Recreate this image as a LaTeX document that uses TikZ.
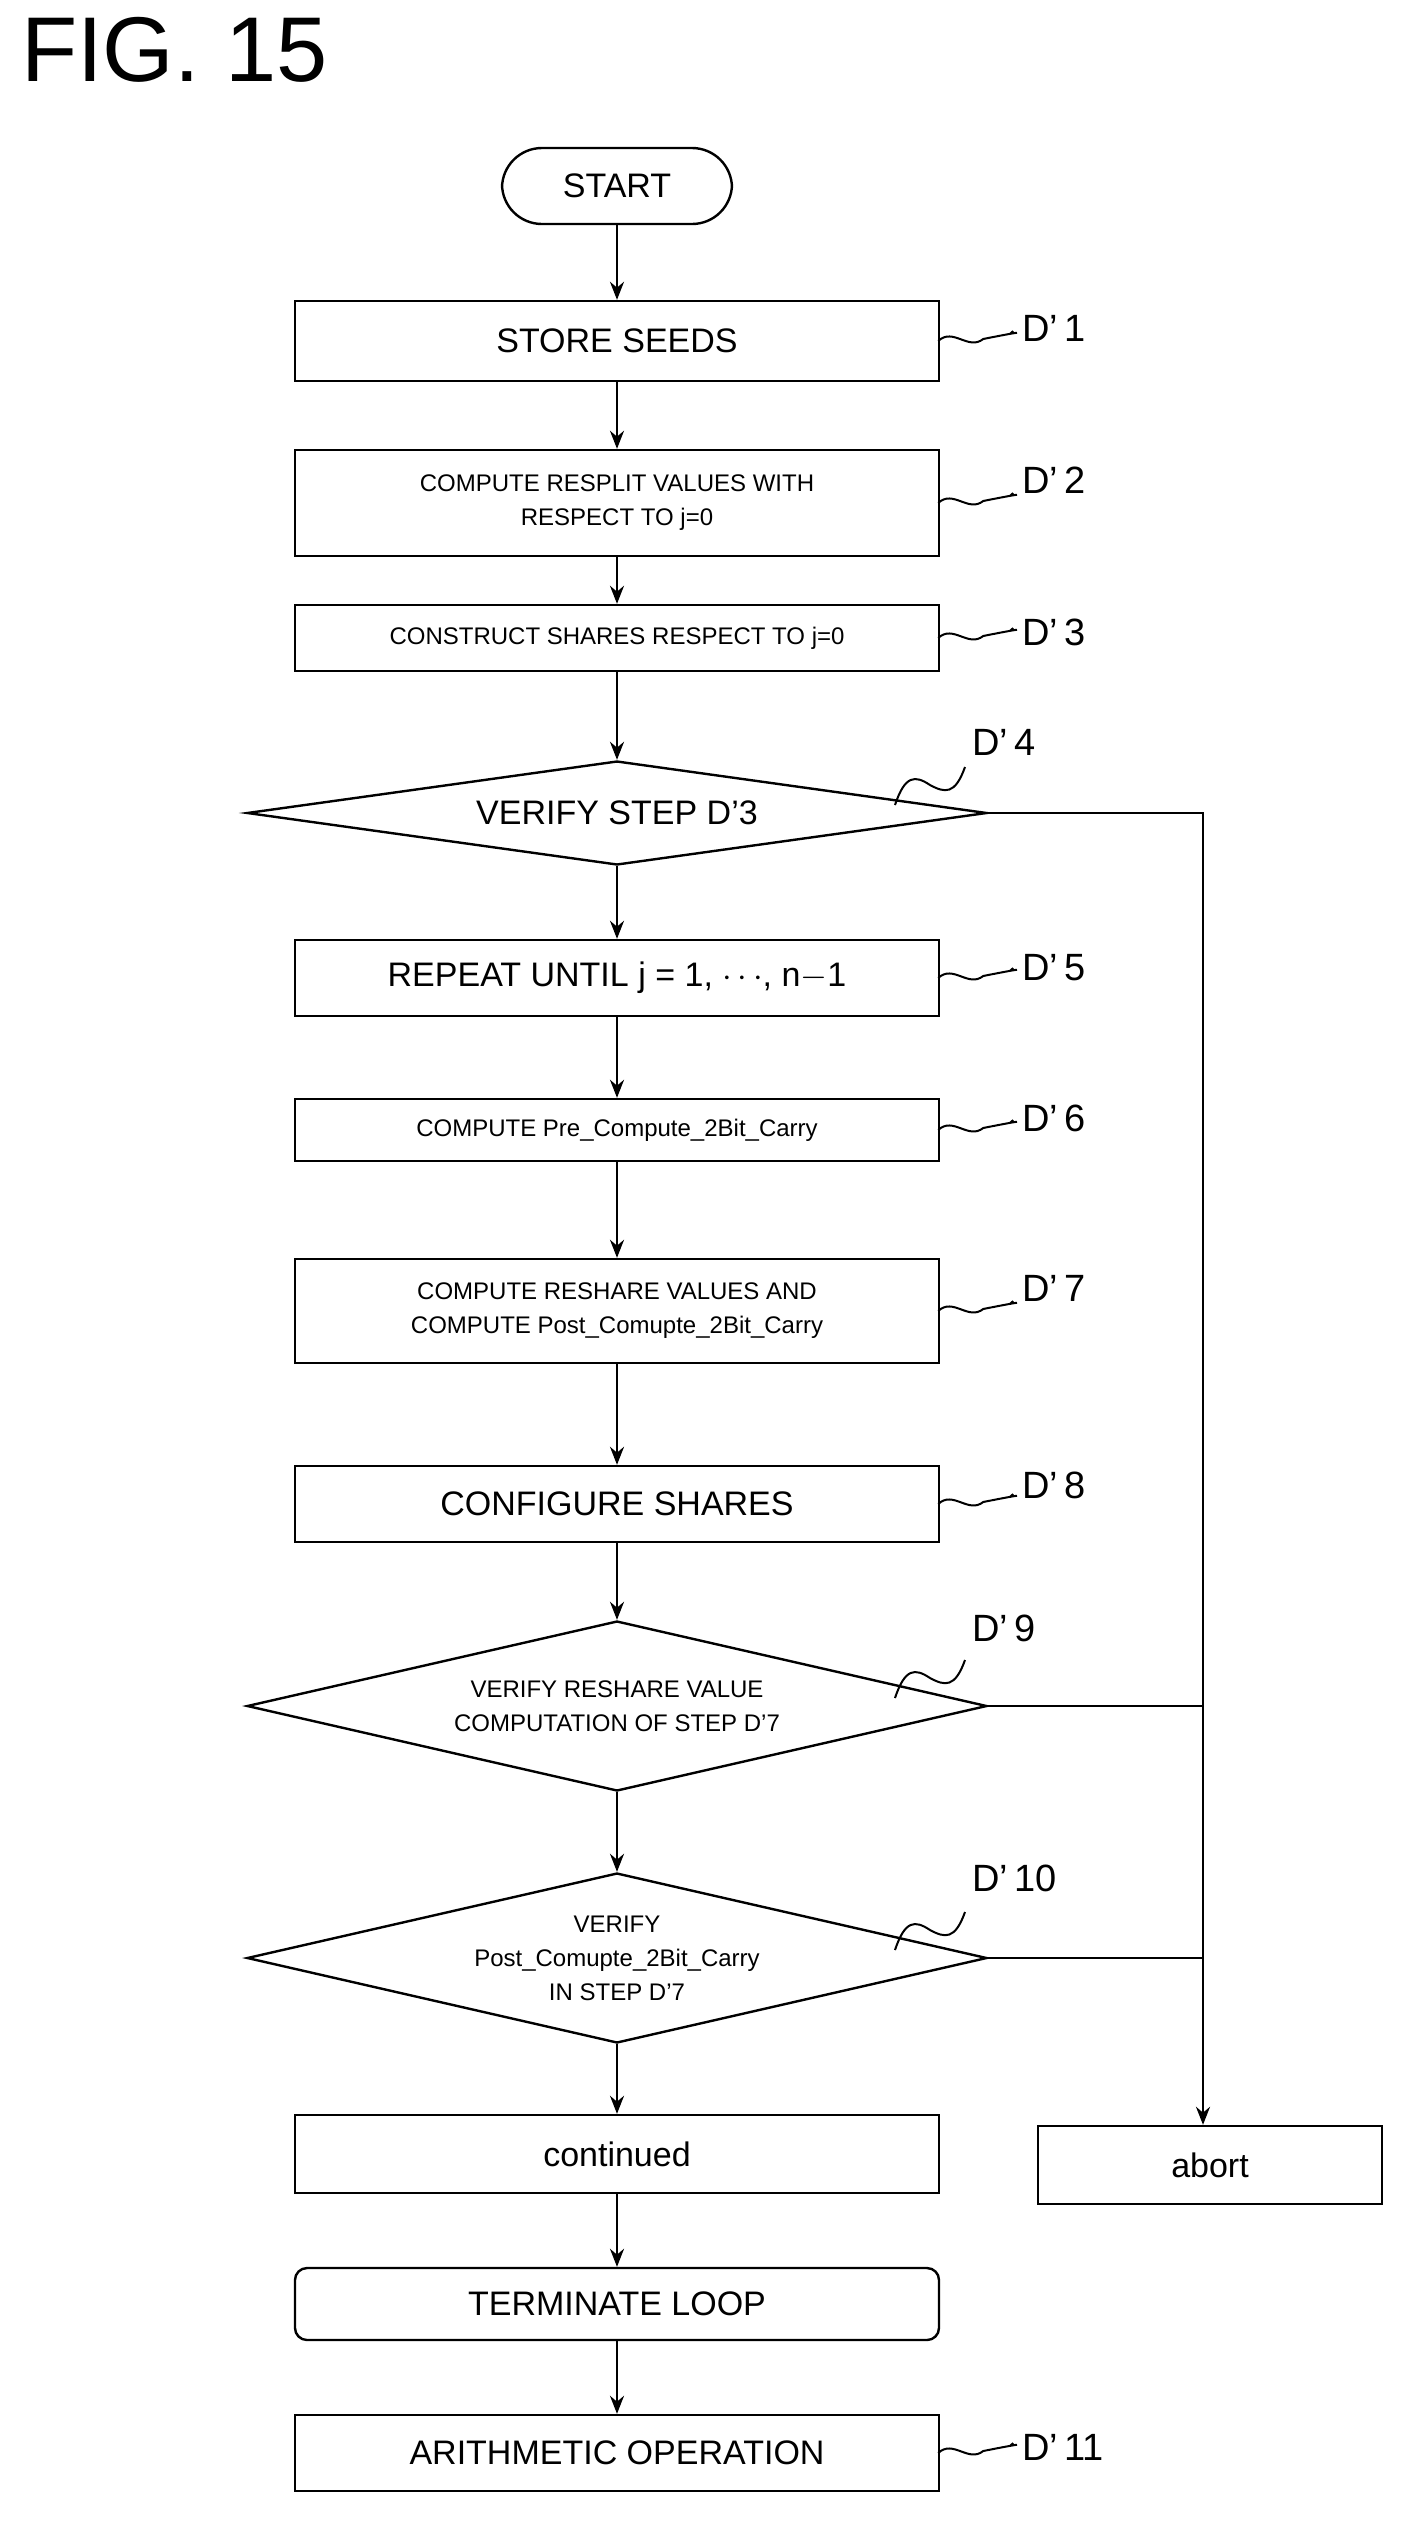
\documentclass[tikz,border=0pt]{standalone}
\usepackage{fontspec}
\setmainfont{Liberation Sans}
\usetikzlibrary{shapes.geometric,arrows.meta}
\begin{document}
\begin{tikzpicture}[x=0.5pt,y=-0.5pt,
  box/.style={draw,line width=1.2pt,minimum width=322pt,inner sep=0pt,align=center},
  dia/.style={draw,line width=1.2pt,diamond,aspect=4.4,inner sep=0pt,align=center},
  big/.style={font=\fontsize{17}{20}\selectfont},
  sm/.style={font=\fontsize{12}{17}\selectfont},
  lab/.style={font=\fontsize{19}{22}\selectfont,anchor=west},
  arr/.style={line width=1.2pt,-{Stealth[length=9pt,width=7pt]}},
  ln/.style={line width=1.2pt},
  sq/.style={line width=1pt}]
\useasboundingbox (0,0) rectangle (1410,2522);
\node[anchor=north west,font=\fontsize{46}{52}\selectfont] (fig) at (14,10) {FIG. 15};
\node[draw,line width=1.2pt,rounded corners=20pt,minimum width=115pt,minimum height=38pt,big] (s) at (617,186) {START};
\node[box,minimum height=40pt,big] (d1) at (617,341) {STORE SEEDS};
\node[box,minimum height=53pt,sm] (d2) at (617,503) {COMPUTE RESPLIT VALUES WITH\\RESPECT TO j=0};
\node[box,minimum height=33pt,sm] (d3) at (617,638) {CONSTRUCT SHARES RESPECT TO j=0};
\node[dia,minimum width=370pt,minimum height=52pt,big] (d4) at (617,813) {};
\node[big] at (617,813) {VERIFY STEP D\textquoteright3};
\node[box,minimum height=38pt,big] (d5) at (617,978) {REPEAT UNTIL j = 1, $\cdots$, n$-$1};
\node[box,minimum height=31pt,sm] (d6) at (617,1130) {COMPUTE Pre\_Compute\_2Bit\_Carry};
\node[box,minimum height=52pt,sm] (d7) at (617,1311) {COMPUTE RESHARE VALUES AND\\COMPUTE Post\_Comupte\_2Bit\_Carry};
\node[box,minimum height=38pt,big] (d8) at (617,1504) {CONFIGURE SHARES};
\node[dia,minimum width=370pt,minimum height=85pt] (d9) at (617,1706) {};
\node[sm,align=center] at (617,1706) {VERIFY RESHARE VALUE\\COMPUTATION OF STEP D\textquoteright7};
\node[dia,minimum width=370pt,minimum height=85pt] (d10) at (617,1958) {};
\node[sm,align=center] at (617,1958) {VERIFY\\Post\_Comupte\_2Bit\_Carry\\IN STEP D\textquoteright7};
\node[box,minimum height=39pt,big] (c) at (617,2154) {continued};
\node[draw,line width=1.2pt,minimum width=172pt,minimum height=39pt,big] (ab) at (1210,2165) {abort};
\node[box,rounded corners=6pt,minimum height=36pt,big] (t) at (617,2304) {TERMINATE LOOP};
\node[box,minimum height=38pt,big] (d11) at (617,2453) {ARITHMETIC OPERATION};
\foreach \a/\b in {s/d1,d1/d2,d2/d3,d3/d4,d4/d5,d5/d6,d6/d7,d7/d8,d8/d9,d9/d10,d10/c,c/t,t/d11}
  \draw[arr] (\a) -- (\b);
\coordinate (r4) at (1203,813);
\coordinate (r9) at (1203,1706);
\coordinate (r10) at (1203,1958);
\draw[ln] (d4.east) -- (r4) -- (r10);
\draw[ln] (d9.east) -- (r9);
\draw[ln] (d10.east) -- (r10);
\draw[arr] (r10) -- (ab.north -| r10);
\foreach \n in {d1,d2,d3,d5,d6,d7,d8,d11}{
  \draw[sq] (\n.east) ++(-2,0) .. controls +(15,-14) and +(-15,12) .. +(45,-2) .. controls +(60,-12) and +(-10,6) .. +(75,-10);
}
\node[lab] at (1015,328) {D\textquoteright\,1};
\node[lab] at (1015,480) {D\textquoteright\,2};
\node[lab] at (1015,632) {D\textquoteright\,3};
\node[lab] at (1015,968) {D\textquoteright\,5};
\node[lab] at (1015,1118) {D\textquoteright\,6};
\node[lab] at (1015,1288) {D\textquoteright\,7};
\node[lab] at (1015,1485) {D\textquoteright\,8};
\node[lab] at (1015,2447) {D\textquoteright\,11};
\foreach \x/\y in {895/805,895/1698,895/1950}
  \draw[sq] (\x,\y) .. controls (905,\y-30) and (915,\y-30) .. (930,\y-20) .. controls (945,\y-12) and (955,\y-10) .. (965,\y-38);
\node[lab] at (965,742) {D\textquoteright\,4};
\node[lab] at (965,1628) {D\textquoteright\,9};
\node[lab] at (965,1878) {D\textquoteright\,10};
\end{tikzpicture}
\end{document}
